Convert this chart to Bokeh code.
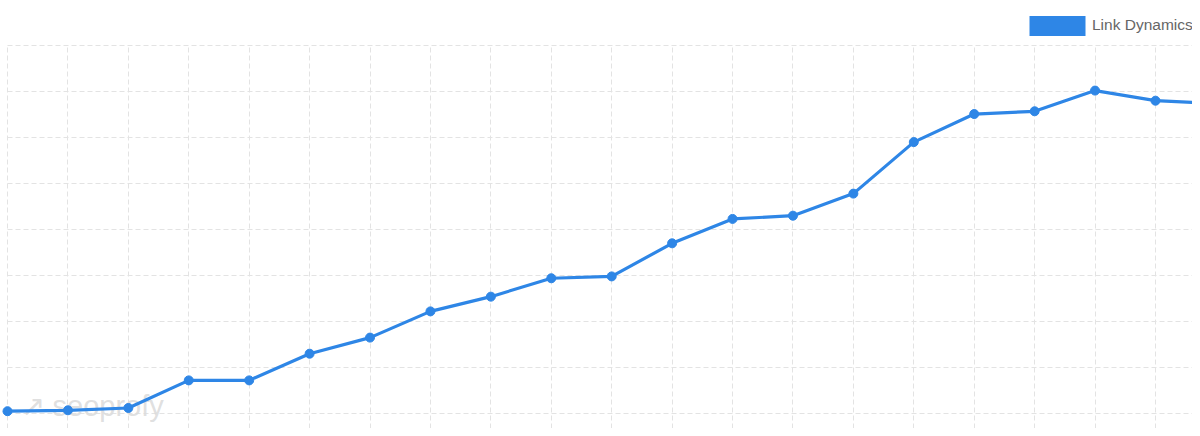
from bokeh.plotting import figure
from bokeh.models import ColumnDataSource, Legend, LegendItem, Label, Range1d, FixedTicker
from bokeh.embed import file_html
from bokeh.resources import INLINE

# ---- data ----
periods = list(range(21))
link_counts = [5, 7, 12, 72, 72, 130, 165, 222, 254, 294, 298, 370, 423, 430, 478, 590, 651, 657, 702, 680, 674]
y_ticks = [0, 100, 200, 300, 400, 500, 600, 700, 800]
series_name = "Link Dynamics"
watermark = "↗ seoprofy"

BLUE = "#2e86e6"

W, H = 1192, 428
px_per_step = 60.42
x_start = -7.0 / px_per_step
x_end = x_start + W / px_per_step
y_per_px = 100 / 46.0
y_end = 413 * y_per_px
y_start = (413 - H) * y_per_px

p = figure(width=W, height=H, output_backend="svg", toolbar_location=None,
           x_range=Range1d(x_start, x_end), y_range=Range1d(y_start, y_end),
           min_border=0, min_border_left=0, min_border_right=0,
           min_border_top=0, min_border_bottom=0)
p.outline_line_color = None
p.background_fill_color = "white"
p.border_fill_color = "white"
p.xaxis.visible = False
p.yaxis.visible = False

p.xgrid.ticker = FixedTicker(ticks=periods)
p.ygrid.ticker = FixedTicker(ticks=y_ticks)
for g in (p.xgrid, p.ygrid):
    g.grid_line_color = "#e3e3e3"
    g.grid_line_dash = "5 3"
    g.grid_line_width = 1
p.xgrid.cross_bounds = (y_start, y_ticks[-1])
p.ygrid.cross_bounds = (periods[0], x_end + 1)

src = ColumnDataSource(data=dict(x=periods, y=link_counts))

wm = Label(x=13 / px_per_step, y=16, text=watermark, text_font="Liberation Sans",
           text_font_size="29px", text_color="#dcdcdc", text_alpha=0.9,
           text_baseline="middle", level="underlay")
p.add_layout(wm)

p.line("x", "y", source=src, line_color=BLUE, line_width=3.2)
p.scatter("x", "y", source=src, size=9, fill_color=BLUE, line_color=BLUE)

# legend swatch helper (kept outside the visible range)
off = x_end + 10
swatch = p.quad(left=[off], right=[off + 1], top=[1], bottom=[0], fill_color=BLUE, line_alpha=0)
legend = Legend(items=[LegendItem(label=series_name, renderers=[swatch])],
                location=(1022, H - 37.5), orientation="horizontal",
                glyph_width=70, glyph_height=25, label_standoff=0,
                label_text_font="Liberation Sans", label_text_font_size="15.5px",
                label_text_color="#666666", label_height=25,
                margin=0, padding=0, spacing=0,
                border_line_alpha=0, background_fill_alpha=0)
p.add_layout(legend)

open("out.html", "w").write(file_html(p, INLINE))
